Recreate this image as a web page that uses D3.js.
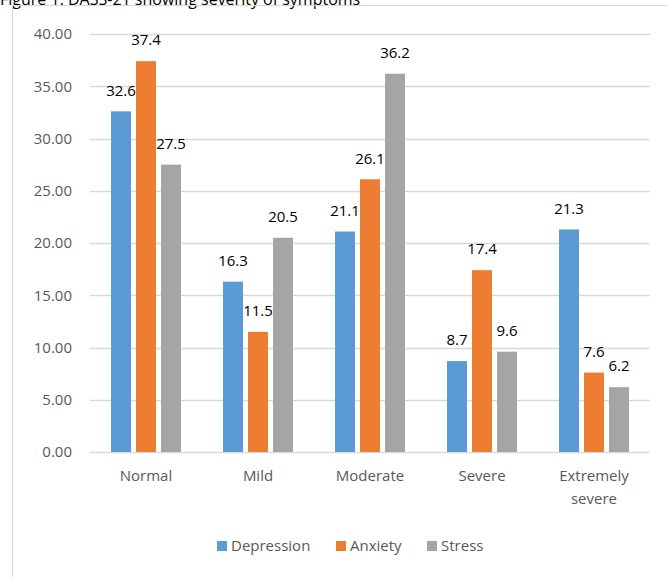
<!DOCTYPE html>
<html><head><meta charset="utf-8">
<script src="https://cdn.jsdelivr.net/npm/d3@7"></script>
<style>body{margin:0;background:#fff}svg{display:block}</style>
</head><body>
<svg id="c" width="668" height="577"></svg>
<script>
const categories = ["Normal","Mild","Moderate","Severe","Extremely severe"];
const seriesNames = ["Depression","Anxiety","Stress"];
const depression = [32.6,16.3,21.1,8.7,21.3];
const anxiety = [37.4,11.5,26.1,17.4,7.6];
const stress = [27.5,20.5,36.2,9.6,6.2];
const yTicks = [0,5,10,15,20,25,30,35,40];
const colors = ["#5b9bd5","#ed7d31","#a5a5a5"];
const title = "Figure 1: DASS-21 showing severity of symptoms";

const series = [depression, anxiety, stress];
const svg = d3.select("#c");
const font = "'Open Sans', sans-serif";

svg.append("text").attr("x",0).attr("y",5).attr("font-family",font).attr("font-size",16).attr("fill","#000").text(title);

// border
svg.append("rect").attr("x",12.5).attr("y",5.5).attr("width",700).attr("height",700)
  .attr("fill","none").attr("stroke","#d9d9d9").attr("stroke-width",1);

const x0 = d3.scaleBand().domain(categories).range([90,650]);
const x1 = d3.scaleBand().domain(seriesNames).range([0,70]).paddingInner(0.2).paddingOuter(0);
const y = d3.scaleLinear().domain([0,40]).range([452,34]);

const grid = svg.append("g");
yTicks.forEach(t=>{
  grid.append("line").attr("x1",90).attr("x2",650).attr("y1",Math.round(y(t))+0.5).attr("y2",Math.round(y(t))+0.5)
    .attr("stroke","#d9d9d9").attr("stroke-width",1.3);
  grid.append("text").attr("x",72).attr("y",y(t)).attr("dy","0.35em").attr("text-anchor","end")
    .attr("font-family",font).attr("font-size",15).attr("fill","#595959").text(t.toFixed(2));
});

categories.forEach((c,i)=>{
  const gx = x0(c) + (x0.bandwidth()-70)/2;
  series.forEach((s,j)=>{
    const bx = gx + x1(seriesNames[j]);
    svg.append("rect").attr("x",bx).attr("y",y(s[i])).attr("width",x1.bandwidth())
      .attr("height",y(0)-y(s[i])).attr("fill",colors[j]);
  });
  series.forEach((s,j)=>{
    const bx = gx + x1(seriesNames[j]) + x1.bandwidth()/2;
    svg.append("text").attr("x",bx).attr("y",y(s[i])-21).attr("dy","0.35em").attr("text-anchor","middle")
      .attr("font-family",font).attr("font-size",15).attr("fill","#000").text(s[i]);
  });
  const words = c === "Extremely severe" ? ["Extremely","severe"] : [c];
  words.forEach((w,k)=>{
    svg.append("text").attr("x",x0(c)+x0.bandwidth()/2).attr("y",476+k*23).attr("dy","0.35em")
      .attr("text-anchor","middle").attr("font-family",font).attr("font-size",15).attr("fill","#595959").text(w);
  });
});

// legend
const legX = [217,336,427];
seriesNames.forEach((n,j)=>{
  svg.append("rect").attr("x",legX[j]).attr("y",541).attr("width",10).attr("height",10).attr("fill",colors[j]);
  svg.append("text").attr("x",legX[j]+14).attr("y",546).attr("dy","0.35em")
    .attr("font-family",font).attr("font-size",15).attr("fill","#595959").text(n);
});
</script>
</body></html>
